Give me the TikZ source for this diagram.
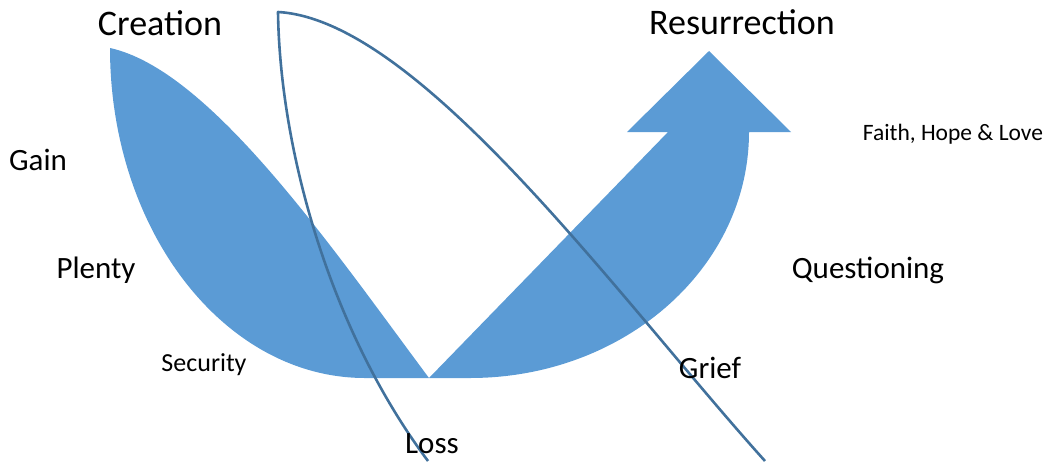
\documentclass[tikz,border=0pt]{standalone}
\usepackage{fontspec}
\setmainfont{Carlito}
\definecolor{arrowblue}{HTML}{5B9BD5}
\definecolor{lineblue}{HTML}{41719C}
\tikzstyle{stage} = [
    inner sep=0pt, text=black,
    font=\fontsize{31}{37}\selectfont
]
\tikzstyle{bigstage} = [stage, font=\fontsize{36}{43}\selectfont] % top words
\tikzstyle{smallstage} = [stage, font=\fontsize{26}{31}\selectfont]
\tikzstyle{uturn} = [fill=arrowblue, draw=none]
\tikzstyle{lens} = [draw=lineblue, line width=2.6pt, line join=round]

\begin{document}
\begin{tikzpicture}[x=1pt, y=-1pt]
        \useasboundingbox (0,0) rectangle (1055,461);

        % U-turn arrow
        \path[uturn] (110,48) .. controls (110,230) and (224,378) .. (365,378)
            -- (470,378) .. controls (624,378) and (749,268) .. (749,132)
            -- (791,132) -- (709,51) -- (627,132) -- (668,132)
            -- (429,378) .. controls (330,245) and (210,70) .. (110,48) -- cycle;

        % Thin outline running off the bottom
        \draw[lens] (428,461) .. controls (330,330) and (280,150) .. (278,12)
            .. controls (420,20) and (620,300) .. (765,461);

        % Stages
        \node[bigstage] (creation) at (160,23) {Creation};
        \node[bigstage] (resurrection) at (742,22) {Resurrection};
        \node[stage] (gain) at (38,160) {Gain};
        \node[stage] (plenty) at (96,270) {Plenty};
        \node[smallstage] (security) at (204,365) {Security};
        \node[stage] (loss) at (432,444) {Loss};
        \node[stage] (grief) at (710,368) {Grief};
        \node[stage] (questioning) at (868,270) {Questioning};
        \node[stage, font=\fontsize{23.5}{28}\selectfont] (faith) at (953,134) {Faith, Hope \& Love};

    \end{tikzpicture}
\end{document}
